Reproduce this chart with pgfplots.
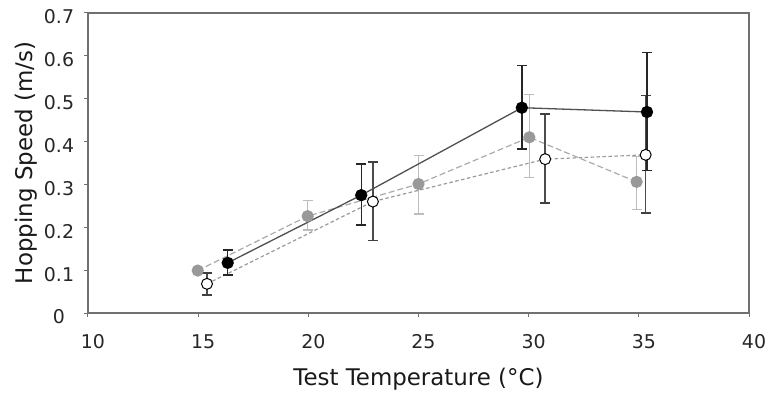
\documentclass[border=0pt]{standalone}
\usepackage{fontspec}
\setmainfont{DejaVu Sans}
\usepackage{pgfplots}
\pgfplotsset{compat=1.18}
\definecolor{axgrey}{HTML}{707070}
\definecolor{blkline}{HTML}{505050}
\definecolor{gryline}{HTML}{ABABAB}
\definecolor{whtline}{HTML}{9A9A9A}
\definecolor{grymark}{HTML}{999999}
\definecolor{gryerr}{HTML}{BDBDBD}
\begin{document}
\begin{tikzpicture}
\begin{axis}[
  scale only axis, width=661bp, height=300bp,
  xmin=10, xmax=40, ymin=0, ymax=0.7,
  xtick={10,15,...,40}, ytick={0,0.1,...,0.7},
  yticklabels={0,0.1,0.2,0.3,0.4,0.5,0.6,0.7},
  xtick pos=bottom, ytick pos=left,
  tick align=outside, major tick length=4bp,
  axis line style={axgrey, line width=1.3bp},
  every tick/.style={axgrey, line width=1bp},
  /pgf/number format/assume math mode=true,
  tick label style={font=\fontsize{19}{22}\selectfont, text=black!85},
  xticklabel style={anchor=base, yshift=-31bp, xshift=5bp},
  yticklabel style={anchor=center, xshift=-25bp, yshift=-4bp},
  label style={font=\fontsize{23}{26}\selectfont, text=black!90},
  xlabel={Test Temperature (°C)},
  ylabel={Hopping Speed (m/s)},
  xlabel style={at={(axis description cs:0.5,-0.24)}, anchor=base},
  ylabel style={at={(axis description cs:-0.0847,0.5)}, anchor=base},
  clip=false,
]
% grey series
\addplot[gryline, line width=1.2bp, dash pattern=on 6bp off 3bp,
  mark=*, mark size=5.5bp, mark options={solid, fill=grymark, draw=grymark},
  error bars/.cd, y dir=both, y explicit,
  error bar style={gryerr, line width=1.4bp, solid},
  error mark options={rotate=90, gryerr, mark size=5bp, line width=1.4bp, solid}]
  table[x=x, y=y, y error plus=ep, y error minus=em] {
x y ep em
14.98 0.099 0.006 0.006
19.97 0.226 0.036 0.032
25.0 0.301 0.067 0.070
30.03 0.410 0.100 0.094
34.9 0.306 0.059 0.064
};
% white series
\addplot[whtline, line width=1.2bp, dash pattern=on 3.5bp off 2.5bp,
  mark=*, mark size=5.5bp, mark options={solid, fill=white, draw=black, line width=1bp},
  error bars/.cd, y dir=both, y explicit,
  error bar style={black!70, line width=1.4bp, solid},
  error mark options={rotate=90, black!75, mark size=5bp, line width=1.4bp, solid}]
  table[x=x, y=y, y error plus=ep, y error minus=em] {
x y ep em
15.4 0.068 0.025 0.026
22.93 0.260 0.092 0.091
30.75 0.359 0.105 0.102
35.31 0.369 0.138 0.136
};
% black series
\addplot[blkline, line width=1.3bp, solid,
  mark=*, mark size=5.5bp, mark options={fill=black, draw=black},
  error bars/.cd, y dir=both, y explicit,
  error bar style={black!85, line width=1.4bp},
  error mark options={rotate=90, black!85, mark size=5bp, line width=1.4bp}]
  table[x=x, y=y, y error plus=ep, y error minus=em] {
x y ep em
16.34 0.117 0.030 0.028
22.4 0.275 0.073 0.070
29.69 0.479 0.098 0.096
35.37 0.469 0.139 0.137
};
\end{axis}
\pgfresetboundingbox
\path (-88bp,-83bp) rectangle (682bp,313bp);
\end{tikzpicture}
\end{document}
